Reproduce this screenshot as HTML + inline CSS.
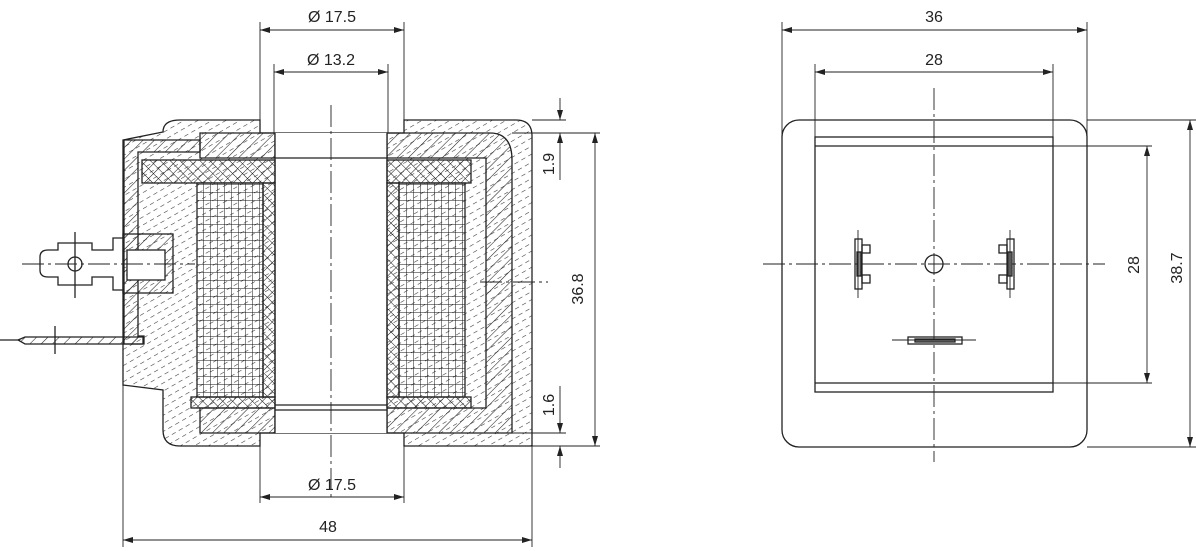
<!DOCTYPE html>
<html><head><meta charset="utf-8"><style>
html,body{margin:0;padding:0;background:#fff}
svg{display:block}
text{font-family:"Liberation Sans",sans-serif;font-size:16px;fill:#222}
</style></head><body>
<svg width="1196" height="551" viewBox="0 0 1196 551" xmlns="http://www.w3.org/2000/svg">
<defs>
<pattern id="diag" width="8" height="8" patternUnits="userSpaceOnUse" patternTransform="rotate(45)">
<line x1="0" y1="0" x2="0" y2="8" stroke="#222" stroke-width="1.1"/></pattern>
<pattern id="plast" width="7" height="8" patternUnits="userSpaceOnUse" patternTransform="rotate(60)">
<line x1="0" y1="0" x2="0" y2="4.5" stroke="#333" stroke-width="1.1"/></pattern>
<pattern id="cross" width="7" height="7" patternUnits="userSpaceOnUse" patternTransform="rotate(45)">
<line x1="0" y1="0" x2="0" y2="7" stroke="#111" stroke-width="1"/><line x1="0" y1="0" x2="7" y2="0" stroke="#111" stroke-width="1"/></pattern>
<pattern id="grid" width="7" height="8" patternUnits="userSpaceOnUse">
<line x1="0" y1="0" x2="0" y2="8" stroke="#111" stroke-width="1"/><line x1="0" y1="0" x2="7" y2="0" stroke="#111" stroke-width="1"/></pattern>
<marker id="a" viewBox="0 0 10 6" refX="10" refY="3" markerWidth="10" markerHeight="6" orient="auto-start-reverse" markerUnits="userSpaceOnUse">
<path d="M0,0 L10,3 L0,6 z" fill="#222"/></marker>
</defs>
<g stroke="#222" stroke-width="1.3" fill="none">
<path d="M180,120 H260 V133 H404 V120 H516 Q532,120 532,136 V446 H404 V433 H260 V446 H180 Q163,446 163,430 V390 L123,385 V140 L163,132 Q163,120 180,120 Z" fill="url(#plast)"/>
<path d="M200,133 H275 V158 H200 Z" fill="url(#diag)"/>
<path d="M387,133 H490 Q512,133 512,160 V433 H387 V408 H486 V158 H387 Z" fill="url(#diag)"/>
<path d="M200,408 H275 V433 H200 Z" fill="url(#diag)"/>
<rect x="275" y="133" width="112" height="300" fill="#fff" stroke="none"/>
<line x1="275" y1="133" x2="275" y2="433"/><line x1="387" y1="133" x2="387" y2="433"/>
<line x1="275" y1="158" x2="387" y2="158"/><line x1="275" y1="405" x2="387" y2="405"/><line x1="275" y1="410" x2="387" y2="410"/>
<rect x="142" y="160" width="133" height="23" fill="url(#cross)"/>
<rect x="387" y="160" width="84" height="23" fill="url(#cross)"/>
<rect x="263" y="183" width="12" height="214" fill="url(#cross)"/>
<rect x="387" y="183" width="12" height="214" fill="url(#cross)"/>
<rect x="191" y="397" width="84" height="11" fill="url(#cross)"/>
<rect x="387" y="397" width="84" height="11" fill="url(#cross)"/>
<rect x="197" y="183" width="66" height="214" fill="url(#grid)"/>
<rect x="399" y="183" width="66" height="214" fill="url(#grid)"/>
<path d="M124,140 H200 V152 H138 V336 H144 V344 H124 Z" fill="url(#diag)"/>
<path d="M48,250 H58 V243 H92 V250 H113 V238 H123 V290 H113 V277 H92 V285 H58 V277 H48 Q40,277 40,270 V257 Q40,250 48,250 Z" fill="#fff"/>
<circle cx="75" cy="264" r="7"/>
<rect x="123" y="234" width="50" height="59" fill="url(#diag)"/>
<rect x="127" y="250" width="38" height="30" fill="#fff"/>
<path d="M25,337 H143 V344 H25 L18,340 Z" fill="url(#diag)"/>
<line x1="0" y1="340" x2="20" y2="340"/>
<line x1="55" y1="326" x2="55" y2="354"/>
<line x1="75" y1="232" x2="75" y2="298"/>
</g>
<g stroke="#222" stroke-width="0.9" fill="none" stroke-dasharray="22 4 3 4">
<line x1="331" y1="105" x2="331" y2="500"/>
<line x1="22" y1="264" x2="195" y2="264"/>
<line x1="480" y1="282" x2="548" y2="282"/>
<line x1="934" y1="88" x2="934" y2="462"/>
<line x1="763" y1="264" x2="1105" y2="264"/>
</g>
<g stroke="#222" stroke-width="0.9" fill="none">
<line x1="260" y1="22" x2="260" y2="133"/><line x1="404" y1="22" x2="404" y2="133"/>
<line x1="260" y1="30" x2="404" y2="30" marker-start="url(#a)" marker-end="url(#a)"/>
<line x1="274" y1="64" x2="274" y2="133"/><line x1="388" y1="64" x2="388" y2="133"/>
<line x1="274" y1="72" x2="388" y2="72" marker-start="url(#a)" marker-end="url(#a)"/>
<line x1="260" y1="433" x2="260" y2="503"/><line x1="404" y1="433" x2="404" y2="503"/>
<line x1="260" y1="497" x2="404" y2="497" marker-start="url(#a)" marker-end="url(#a)"/>
<line x1="123" y1="385" x2="123" y2="547"/><line x1="532" y1="446" x2="532" y2="547"/>
<line x1="123" y1="540" x2="532" y2="540" marker-start="url(#a)" marker-end="url(#a)"/>
<line x1="532" y1="120" x2="566" y2="120"/><line x1="512" y1="133" x2="600" y2="133"/>
<line x1="532" y1="446" x2="600" y2="446"/><line x1="512" y1="433" x2="566" y2="433"/>
<line x1="595" y1="133" x2="595" y2="446" marker-start="url(#a)" marker-end="url(#a)"/>
<line x1="560" y1="98" x2="560" y2="120" marker-end="url(#a)"/>
<line x1="560" y1="180" x2="560" y2="133" marker-end="url(#a)"/>
<line x1="560" y1="386" x2="560" y2="433" marker-end="url(#a)"/>
<line x1="560" y1="468" x2="560" y2="446" marker-end="url(#a)"/>
</g>
<text x="332" y="22" text-anchor="middle">Ø 17.5</text>
<text x="331" y="65" text-anchor="middle">Ø 13.2</text>
<text x="332" y="490" text-anchor="middle">Ø 17.5</text>
<text x="328" y="532" text-anchor="middle">48</text>
<text transform="translate(583,289) rotate(-90)" text-anchor="middle">36.8</text>
<text transform="translate(554,164) rotate(-90)" text-anchor="middle">1.9</text>
<text transform="translate(554,405) rotate(-90)" text-anchor="middle">1.6</text>
<g stroke="#222" stroke-width="1.3" fill="none">
<rect x="782" y="120" width="305" height="327" rx="17"/>
<rect x="815" y="137" width="238" height="255"/>
<line x1="815" y1="146" x2="1053" y2="146"/><line x1="815" y1="383" x2="1053" y2="383"/>
<circle cx="934" cy="264" r="9"/>
<rect x="855" y="239" width="7" height="50"/><rect x="862" y="245" width="8" height="8"/><rect x="862" y="275" width="8" height="8"/>
<rect x="857" y="252" width="4" height="24" fill="#888"/>
<rect x="1007" y="239" width="7" height="50"/><rect x="999" y="245" width="8" height="8"/><rect x="999" y="275" width="8" height="8"/>
<rect x="1008" y="252" width="4" height="24" fill="#888"/>
<rect x="908" y="337" width="54" height="7"/><rect x="915" y="339" width="40" height="3" fill="#888"/>
</g>
<g stroke="#222" stroke-width="0.9" fill="none">
<line x1="858" y1="230" x2="858" y2="298"/><line x1="1010" y1="230" x2="1010" y2="298"/>
<line x1="892" y1="340" x2="976" y2="340"/>
<line x1="782" y1="22" x2="782" y2="137"/><line x1="1087" y1="22" x2="1087" y2="137"/>
<line x1="782" y1="30" x2="1087" y2="30" marker-start="url(#a)" marker-end="url(#a)"/>
<line x1="815" y1="64" x2="815" y2="137"/><line x1="1053" y1="64" x2="1053" y2="137"/>
<line x1="815" y1="72" x2="1053" y2="72" marker-start="url(#a)" marker-end="url(#a)"/>
<line x1="1053" y1="146" x2="1152" y2="146"/><line x1="1053" y1="383" x2="1152" y2="383"/>
<line x1="1147" y1="146" x2="1147" y2="383" marker-start="url(#a)" marker-end="url(#a)"/>
<line x1="1087" y1="120" x2="1196" y2="120"/><line x1="1087" y1="447" x2="1196" y2="447"/>
<line x1="1190" y1="120" x2="1190" y2="447" marker-start="url(#a)" marker-end="url(#a)"/>
</g>
<text x="934" y="22" text-anchor="middle">36</text>
<text x="934" y="65" text-anchor="middle">28</text>
<text transform="translate(1139,265) rotate(-90)" text-anchor="middle">28</text>
<text transform="translate(1182,268) rotate(-90)" text-anchor="middle">38.7</text>
</svg>
</body></html>
